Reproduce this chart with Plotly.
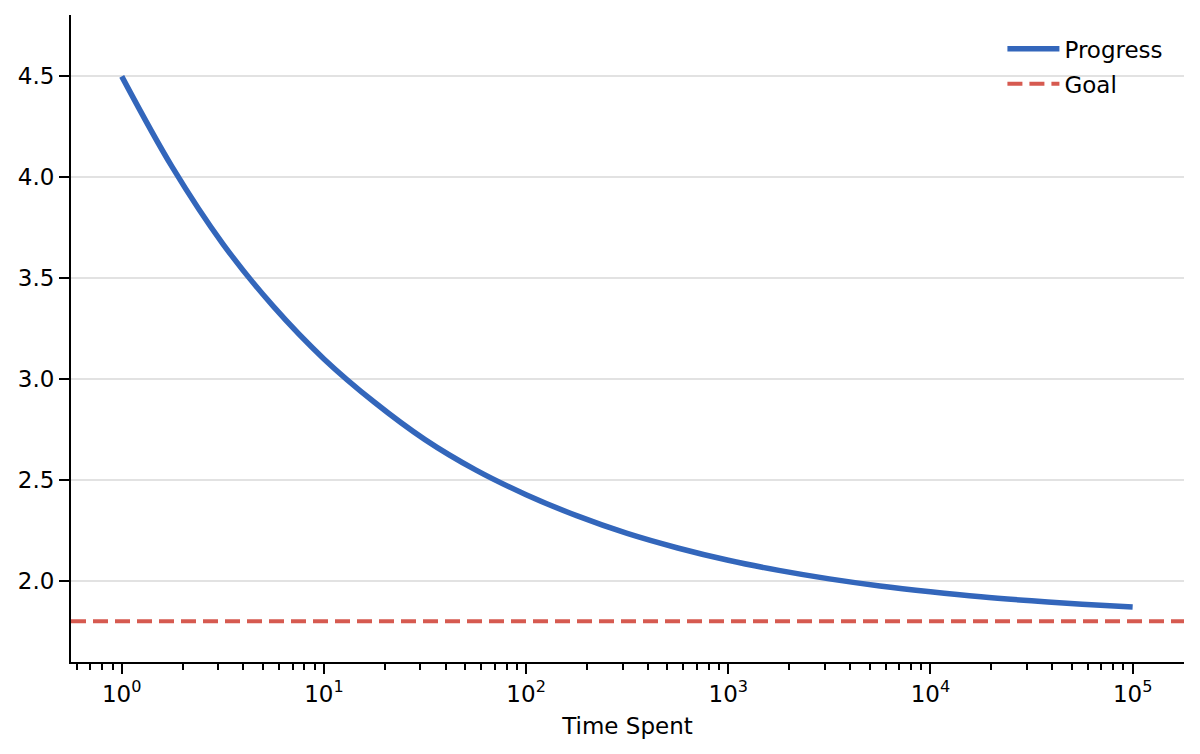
import plotly.graph_objects as go

# values (quarter-decade steps)
time_spent = [1, 1.778, 3.162, 5.623, 10, 17.78, 31.62, 56.23, 100, 177.8, 316.2,
              562.3, 1000, 1778, 3162, 5623, 10000, 17780, 31620, 56230, 100000]
progress = [4.50, 4.05, 3.67, 3.36, 3.10, 2.885, 2.70, 2.55, 2.427, 2.323, 2.235,
            2.163, 2.102, 2.052, 2.010, 1.975, 1.946, 1.921, 1.901, 1.884, 1.870]
goal = 1.8

x_tickvals = [1, 10, 100, 1000, 10000, 100000]
x_ticktext = ["10<sup>0</sup>", "10<sup>1</sup>", "10<sup>2</sup>",
              "10<sup>3</sup>", "10<sup>4</sup>", "10<sup>5</sup>"]
x_minor = [m * 10 ** e for e in range(-1, 6) for m in range(2, 10)]

blue = "#3366BB"
red = "#D65A50"
font = "DejaVu Sans"
fsize = 23

fig = go.Figure([
    go.Scatter(
        name="Progress",
        legendgroup="p",
        x=time_spent,
        y=progress,
        mode="lines",
        line=dict(color=blue, width=5.5, shape="spline")),
    go.Scatter(
        name="Goal",
        legendgroup="g",
        x=[None],
        y=[None],
        mode="lines",
        line=dict(color=red, width=4, dash="15px,7px")),
])
fig.add_hline(y=goal, line=dict(color=red, width=4, dash="15px,7px"), layer="above")

# page body has an 8px margin, so margins are shifted to compensate
fig.update_layout(
    width=1200,
    height=754,
    margin=dict(l=63, r=24, t=7, b=100),
    plot_bgcolor="white",
    paper_bgcolor="white",
    font=dict(family=font, size=fsize, color="black"),
    showlegend=True,
    legend=dict(x=0.986, y=0.981, xanchor="right", yanchor="top",
                bgcolor="rgba(0,0,0,0)", font=dict(size=fsize),
                traceorder="grouped", tracegroupgap=2, itemwidth=52),
)
fig.update_xaxes(
    type="log",
    range=[-0.251, 5.254],
    tickvals=x_tickvals,
    ticktext=x_ticktext,
    tickfont=dict(size=fsize),
    ticks="outside",
    ticklen=10,
    tickwidth=2,
    tickcolor="black",
    showline=True,
    linecolor="black",
    linewidth=2,
    showgrid=False,
    zeroline=False,
    minor=dict(tickvals=x_minor, ticks="outside", ticklen=5.5, tickwidth=1.5,
               tickcolor="black", showgrid=False),
    title=dict(text="Time Spent", standoff=12, font=dict(size=fsize)),
)
fig.update_yaxes(
    range=[1.598, 4.804],
    tickvals=[2.0, 2.5, 3.0, 3.5, 4.0, 4.5],
    tickformat=".1f",
    tickfont=dict(size=fsize),
    ticks="outside",
    ticklen=10,
    tickwidth=2,
    tickcolor="black",
    showline=True,
    linecolor="black",
    linewidth=2,
    showgrid=True,
    gridcolor="#E2E2E2",
    gridwidth=2,
    zeroline=False,
)

fig.write_html("out.html")
